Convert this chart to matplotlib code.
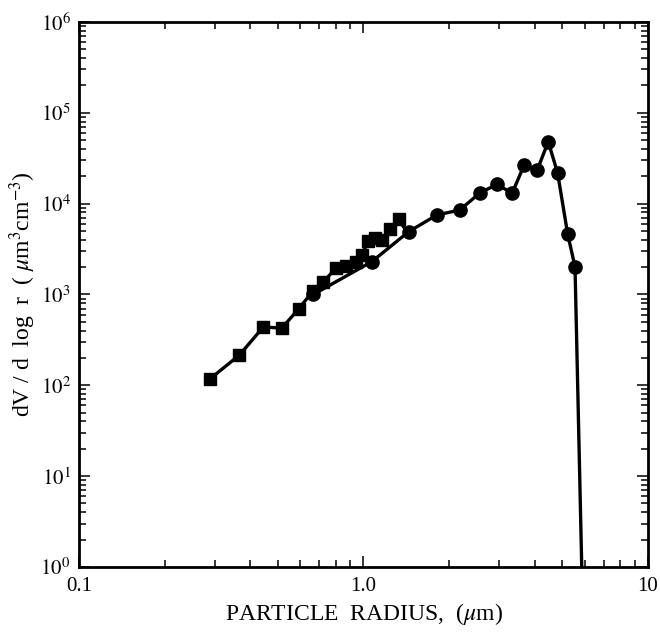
import matplotlib
matplotlib.use('Agg')
import matplotlib.pyplot as plt
from matplotlib.ticker import FixedLocator, FixedFormatter, LogLocator, NullFormatter

plt.rcParams['font.family'] = ['Liberation Serif', 'DejaVu Serif']
plt.rcParams['mathtext.fontset'] = 'stix'

# square-marker series (small particles)
r_sq = [0.289, 0.366, 0.445, 0.516, 0.593, 0.666, 0.723, 0.80, 0.87, 0.94,
        0.985, 1.04, 1.10, 1.16, 1.24, 1.33, 1.42]
v_sq = [118, 215, 440, 425, 700, 1100, 1380, 1950, 2050, 2250,
        2700, 3900, 4200, 4000, 5200, 6700, 4900]

# circle-marker series (large particles)
r_ci = [0.666, 1.07, 1.44, 1.81, 2.18, 2.57, 2.95, 3.33, 3.67, 4.08,
        4.46, 4.81, 5.22, 5.54, 5.85]
v_ci = [1000, 2300, 4900, 7500, 8500, 13200, 16300, 13000, 26600, 23400,
        48100, 21900, 4630, 2020, 1.0]

x_ticks = [0.1, 1.0, 10]
x_labels = ['0.1', '1.0', '10']
y_ticks = [1, 10, 100, 1e3, 1e4, 1e5, 1e6]
y_labels = ['$10^{%d}$' % i for i in range(7)]

fig = plt.figure(figsize=(6.6, 6.35), dpi=100)
ax = fig.add_axes([0.1197, 0.1071, 0.8621, 0.8583])

ax.plot(r_sq, v_sq, color='black', lw=2.4, marker='s', ms=9,
        markevery=list(range(len(r_sq) - 1)), solid_joinstyle='round')
ax.plot(r_ci, v_ci, color='black', lw=2.4, marker='o', ms=9.5,
        markevery=list(range(len(r_ci) - 1)), solid_joinstyle='round')

ax.set_xscale('log')
ax.set_yscale('log')
ax.set_xlim(0.1, 10)
ax.set_ylim(1, 1e6)

ax.xaxis.set_major_locator(FixedLocator(x_ticks))
ax.xaxis.set_major_formatter(FixedFormatter(x_labels))
ax.xaxis.set_minor_locator(LogLocator(base=10, subs=range(2, 10)))
ax.xaxis.set_minor_formatter(NullFormatter())
ax.yaxis.set_major_locator(FixedLocator(y_ticks))
ax.yaxis.set_major_formatter(FixedFormatter(y_labels))
ax.yaxis.set_minor_locator(LogLocator(base=10, subs=range(2, 10)))
ax.yaxis.set_minor_formatter(NullFormatter())

ax.tick_params(which='both', direction='in', top=True, right=True,
               labelsize=15, width=1.1)
ax.tick_params(which='major', length=8, pad=6)
ax.tick_params(which='minor', length=5)
ax.tick_params(axis='x', pad=7)

for s in ax.spines.values():
    s.set_linewidth(2)

ax.set_xlabel('PARTICLE  RADIUS,  ($\\mu$m)', fontsize=17, labelpad=4)
ax.set_ylabel('dV / d  log  r  ( $\\mu$m$^3$cm$^{-3}$)', fontsize=17, labelpad=2)

fig.savefig('out.png', dpi=100)
